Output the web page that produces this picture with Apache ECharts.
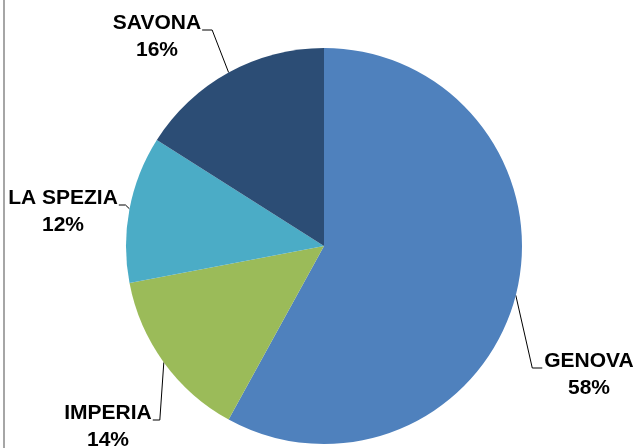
<!DOCTYPE html>
<html>
<head>
<meta charset="utf-8">
<script src="https://cdn.jsdelivr.net/npm/echarts@6/dist/echarts.min.js"></script>
<style>
  html, body { margin: 0; padding: 0; background: #fff; }
  #main { width: 636px; height: 448px; }
</style>
</head>
<body>
<div id="main"></div>
<script>
// dati
var province = ['GENOVA', 'IMPERIA', 'LA SPEZIA', 'SAVONA'];
var quote = [58, 14, 12, 16];
var colori = ['#4F81BD', '#9BBB59', '#4BACC6', '#2C4D75'];

// posizione etichette (centro x, top y) e lato del collegamento
var posEtichette = [[589, 348], [108, 400], [63, 185], [157, 10]];
var latoLinea = ['left', 'right', 'right', 'right'];

var myChart = echarts.init(document.getElementById('main'));

var dati = province.map(function (p, i) {
    return { name: p, value: quote[i], itemStyle: { color: colori[i] } };
});

option = {
    animation: false,
    graphic: [
        {
            type: 'line',
            shape: { x1: 4, y1: 0, x2: 4, y2: 448 },
            style: { stroke: '#A6A6A6', lineWidth: 2 }
        }
    ],
    series: [
        {
            type: 'pie',
            center: [324, 246],
            radius: 198,
            startAngle: 90,
            clockwise: true,
            data: dati,
            label: {
                show: true,
                position: 'outside',
                alignTo: 'none',
                overflow: 'none',
                edgeDistance: 0,
                bleedMargin: 0,
                formatter: '{b}\n{d}%',
                fontFamily: 'Liberation Sans',
                fontWeight: 'bold',
                fontSize: 21,
                lineHeight: 27,
                color: '#000',
                align: 'center'
            },
            labelLine: {
                show: true,
                lineStyle: { color: '#000', width: 1 }
            },
            emphasis: { disabled: true },
            labelLayout: function (params) {
                var i = params.dataIndex;
                var pos = posEtichette[i];
                var w = params.labelRect.width;
                var yLinea = pos[1] + 20;
                var edge = params.labelLinePoints ? params.labelLinePoints[0] : [pos[0], pos[1]];
                var fine, gomito;
                if (latoLinea[i] === 'left') {
                    fine = [pos[0] - w / 2 - 2, yLinea];
                    gomito = [fine[0] - 10, yLinea];
                } else {
                    fine = [pos[0] + w / 2 + 1, yLinea];
                    gomito = [Math.min(fine[0] + 10, edge[0] - 4), yLinea];
                }
                return {
                    x: pos[0],
                    y: pos[1],
                    align: 'center',
                    verticalAlign: 'top',
                    labelLinePoints: [edge, gomito, fine]
                };
            }
        }
    ]
};

myChart.setOption(option);
</script>
</body>
</html>
